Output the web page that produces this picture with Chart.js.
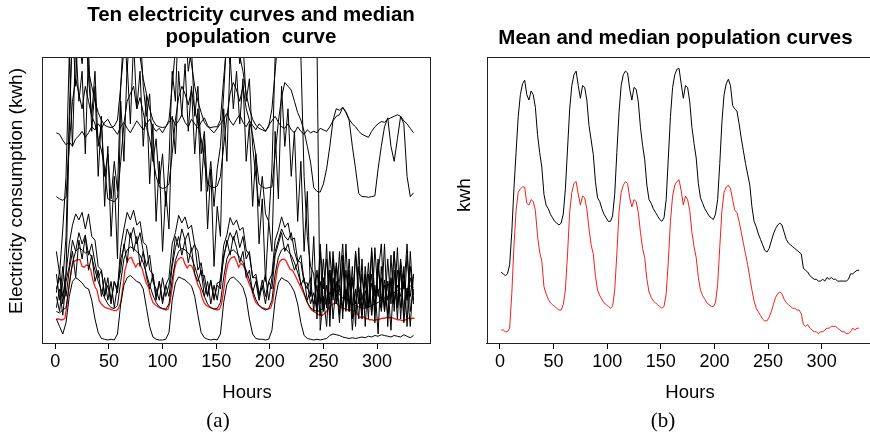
<!DOCTYPE html>
<html><head><meta charset="utf-8">
<script src="https://cdn.jsdelivr.net/npm/chart.js@4.4.1/dist/chart.umd.min.js"></script>
<style>
html,body{margin:0;padding:0;background:#fff;overflow:hidden;width:870px;height:437px;}
#a{position:absolute;left:0;top:0;}
#b{position:absolute;left:435px;top:0;}
</style></head><body>
<canvas id="a" width="435" height="437"></canvas>
<canvas id="b" width="450" height="437"></canvas>
<script>
// ---- x positions of the samples (hours) ----
const hoursFine = Array.from({length:168}, (_, i) => 1 + 2*i);   // 1,3,...,335
const hoursCoarse = Array.from({length:112}, (_, i) => 1 + 3*i); // 1,4,...,334
const hourTicks = [0, 50, 100, 150, 200, 250, 300];

// ---- population curves (kwh) ----
const medianCurve = [
0.30,0.30,0.29,0.29,0.31,0.50,0.76,0.96,1.06,1.08,1.09,1.09,1.00,0.99,1.02,1.01,0.96,0.82,0.73,0.68,0.54,0.50,0.47,0.45,0.44,0.43,0.42,0.41,0.41,
0.44,0.52,0.72,0.95,1.06,1.11,1.12,1.05,0.99,1.04,1.03,0.97,0.86,0.77,0.72,0.60,0.52,0.49,0.47,0.45,0.44,0.43,0.42,0.43,
0.52,0.72,0.95,1.06,1.10,1.12,1.11,1.03,0.98,1.02,1.01,0.95,0.84,0.75,0.70,0.58,0.51,0.48,0.46,0.45,0.44,0.43,0.42,0.43,
0.50,0.68,0.90,1.04,1.10,1.12,1.13,1.07,0.99,1.04,1.02,0.96,0.84,0.76,0.70,0.59,0.52,0.49,0.47,0.45,0.44,0.43,0.43,0.45,
0.55,0.76,0.96,1.06,1.09,1.10,1.08,1.02,0.96,0.95,0.90,0.84,0.78,0.72,0.66,0.59,0.52,0.46,0.42,0.40,0.38,0.36,0.35,0.35,
0.37,0.40,0.44,0.48,0.50,0.51,0.50,0.47,0.45,0.44,0.43,0.42,0.42,0.41,0.41,0.39,0.33,0.32,0.33,0.31,0.30,0.29,0.29,0.28,0.29,0.29,0.30,0.31,0.31,0.32,0.32,0.32,0.31,0.30,0.29,0.29,0.28,0.28,0.29,0.31,0.30,0.31,0.31];
const meanCurve = [
0.62,0.61,0.60,0.61,0.66,0.84,1.08,1.28,1.48,1.60,1.66,1.68,1.60,1.57,1.62,1.60,1.53,1.38,1.28,1.20,1.05,0.99,0.97,0.94,0.92,0.90,0.89,0.88,0.89,
0.94,1.08,1.30,1.52,1.65,1.71,1.73,1.65,1.58,1.65,1.64,1.57,1.43,1.35,1.27,1.12,1.03,1.01,0.97,0.94,0.92,0.90,0.90,0.93,
1.05,1.28,1.50,1.65,1.71,1.73,1.72,1.63,1.57,1.64,1.63,1.56,1.42,1.32,1.24,1.10,1.02,1.00,0.97,0.95,0.93,0.91,0.90,0.92,
1.02,1.25,1.48,1.64,1.71,1.74,1.745,1.66,1.58,1.65,1.64,1.56,1.42,1.33,1.25,1.11,1.03,1.00,0.97,0.95,0.93,0.92,0.91,0.94,
1.02,1.22,1.45,1.60,1.66,1.685,1.65,1.54,1.52,1.51,1.44,1.36,1.29,1.22,1.16,1.10,0.98,0.90,0.87,0.83,0.80,0.77,0.74,0.73,
0.75,0.79,0.83,0.86,0.88,0.89,0.88,0.84,0.80,0.78,0.77,0.76,0.75,0.74,0.73,0.72,0.64,0.63,0.62,0.60,0.59,0.58,0.58,0.57,0.57,0.58,0.57,0.59,0.58,0.59,0.58,0.58,0.57,0.57,0.57,0.57,0.57,0.58,0.61,0.61,0.62,0.63,0.63];

// ---- ten individual electricity curves (kwh, every 3 hours) ----
const consumer1 = [
2.78,2.76,2.68,2.62,2.66,2.60,2.70,2.74, 2.80,2.72,2.78,2.86,2.82,2.90,2.84,2.92,
2.96,2.88,2.82,2.76,2.86,2.92,2.84,2.78, 2.86,2.94,2.88,2.82,2.90,2.96,2.86,2.80,
2.84,2.78,2.86,2.92,2.98,2.88,2.94,3.02, 2.92,2.86,2.96,2.90,2.84,2.92,2.98,2.88,
2.82,2.78,2.84,2.90,2.96,3.04,2.94,2.88, 2.96,3.02,2.92,2.86,2.94,2.88,2.82,2.90,
2.86,2.80,2.88,2.94,3.00,2.92,2.86,2.84, 2.90,2.82,2.78,2.86,2.80,2.76,2.82,2.78,
2.80,2.78,2.84,2.82,2.80,2.86,2.94,3.00, 3.02,3.12,3.06,2.96,2.90,2.86,2.80,2.76,
2.74,2.72,2.80,2.86,2.90,2.93,2.92,2.96, 2.98,3.00,3.02,3.00,2.94,2.90,2.84,2.78];
const consumer2 = [
1.93,1.90,1.88,1.92,2.60,3.20,3.50,3.30, 3.10,3.40,3.20,3.00,2.90,2.70,2.55,2.30,
1.90,1.88,1.86,1.92,2.40,2.90,3.20,3.30, 3.40,3.10,3.25,3.05,2.85,2.70,2.45,2.20,
2.06,2.04,2.05,2.10,2.50,2.95,3.25,3.40, 3.30,3.15,3.35,3.10,2.90,2.70,2.40,2.10,
2.06,2.05,2.07,2.20,2.60,3.00,3.30,3.45, 3.35,3.20,3.40,3.10,2.95,2.75,2.49,2.10,
2.06,2.04,2.05,2.06,2.49,2.93,3.25,3.45, 3.40,3.35,3.20,3.05,2.95,2.80,2.60,2.39,
2.05,2.00,1.99,2.10,2.30,2.60,2.95,3.10, 3.08,3.12,3.05,2.95,2.60,2.30,1.97,1.93,
1.93,1.92,1.93,1.94,2.30,2.60,2.86,2.98, 2.60,2.40,2.70,3.00,2.90,2.20,1.93,1.98];
const consumer3 = [
0.70,0.85,0.60,0.90,2.80,4.20,4.50,4.00, 3.70,4.10,3.60,3.40,3.20,3.05,2.95,2.88,
2.86,2.85,2.87,2.95,3.40,3.90,4.30,4.40, 4.20,4.00,3.80,3.50,3.30,3.10,2.95,2.88,
2.86,2.85,2.86,2.95,3.40,3.90,4.20,4.30, 4.10,3.90,3.70,3.40,3.20,3.05,2.92,2.86,
2.85,2.86,2.86,2.95,3.50,4.00,4.30,4.20, 4.00,3.80,3.60,3.30,3.10,2.96,2.88,2.84,
2.82,2.80,2.86,3.10,3.60,4.10,4.40,4.50, 4.40,4.30,4.20,4.10,4.00,3.95,3.90,3.90,
3.95,4.00,0.15,0.60,0.20,0.95,0.30,0.80, 0.25,1.05,0.40,0.85,0.15,0.70,0.30,1.10,
0.20,0.90,0.35,0.75,0.10,1.00,0.45,0.80, 0.15,0.95,0.30,1.05,0.25,0.70,0.20,0.90];
const consumer4 = [
1.20,0.90,1.50,2.20,3.80,2.60,4.00,3.20, 3.60,2.50,3.90,2.80,3.40,2.20,3.00,1.80,
2.60,1.40,2.20,1.10,3.20,2.40,3.70,2.90, 4.00,3.10,3.60,2.60,3.30,2.10,2.90,1.60,
2.40,1.20,2.00,1.50,3.00,2.50,3.60,3.00, 3.70,2.80,3.40,2.50,3.10,2.00,2.70,1.50,
2.30,1.00,1.80,1.40,3.10,2.40,3.80,3.10, 3.60,2.90,3.50,2.40,2.90,1.80,2.50,1.30,
1.90,0.80,1.60,1.20,2.80,1.90,3.40,2.60, 3.10,2.20,2.80,1.60,2.40,1.20,2.00,0.60,
1.40,0.30,1.20,0.40,1.30,0.20,1.10,0.50, 1.20,0.30,1.30,0.40,1.00,0.20,1.25,0.35,
0.90,0.30,1.20,0.25,1.10,0.45,1.30,0.20, 1.15,0.40,1.25,0.30,1.00,0.20,1.20,0.50];
const consumer5 = [
0.60,0.40,0.80,1.40,3.00,4.20,3.40,4.50, 3.90,4.40,3.50,3.00,3.60,2.60,2.90,2.20,
2.50,1.90,2.40,2.00,3.40,4.20,3.60,4.30, 4.50,3.80,4.20,3.40,3.00,3.30,2.40,2.70,
2.10,2.50,1.80,2.40,3.60,3.20,4.40,3.90, 4.30,3.60,3.90,3.00,3.40,2.50,2.80,2.00,
2.40,1.80,2.30,2.60,3.30,4.10,3.70,4.40, 4.20,3.70,4.00,3.20,3.50,2.60,2.20,1.80,
2.20,1.70,1.60,2.30,3.80,4.30,3.90,4.60, 4.40,4.60,4.20,4.00,3.80,2.20,1.40,1.00,
0.90,0.40,1.30,0.70,1.10,0.50,1.20,0.60, 0.80,1.30,0.50,1.10,0.40,1.20,0.70,0.30,
1.00,0.50,1.25,0.60,0.90,1.30,0.40,0.80, 0.60,1.20,0.50,1.10,0.70,1.30,0.40,0.70];
const consumer6 = [
0.65,0.95,0.50,0.90,1.30,1.55,1.70,1.62, 1.72,1.50,1.70,1.40,1.35,1.00,0.95,0.62,
0.85,0.55,0.80,0.70,1.25,1.50,1.72,1.62, 1.75,1.55,1.60,1.32,1.28,0.95,0.90,0.60,
0.80,0.55,0.75,0.85,1.30,1.45,1.68,1.58, 1.66,1.50,1.55,1.28,1.20,0.88,0.88,0.62,
0.82,0.58,0.78,0.80,1.28,1.42,1.65,1.55, 1.62,1.48,1.52,1.22,1.15,0.85,0.85,0.60,
0.82,0.60,0.80,0.90,1.35,1.48,1.66,1.52, 1.58,1.35,1.38,1.08,1.05,0.78,0.78,0.50,
0.65,0.40,0.80,0.45,0.75,0.35,0.85,0.50, 0.75,0.45,0.70,0.40,0.80,0.50,0.72,0.42,
0.68,0.45,0.78,0.50,0.70,0.40,0.82,0.55, 0.80,0.52,0.75,0.60,0.90,0.55,0.85,0.62];
const consumer7 = [
0.45,0.70,0.35,0.80,1.00,1.35,1.20,1.45, 1.30,1.42,1.15,1.30,1.05,0.85,0.95,0.60,
0.75,0.50,0.80,0.65,1.10,1.25,1.50,1.38, 1.52,1.30,1.45,1.20,1.00,1.15,0.80,0.70,
0.55,0.85,0.60,0.75,1.05,1.40,1.25,1.50, 1.35,1.45,1.20,1.30,0.95,1.05,0.75,0.60,
0.80,0.55,0.75,0.70,1.15,1.30,1.45,1.35, 1.48,1.25,1.40,1.10,1.20,0.85,0.90,0.65,
0.70,0.90,0.55,0.85,1.20,1.35,1.50,1.40, 1.35,1.45,1.20,1.05,1.15,0.80,0.70,0.85,
0.40,0.95,0.50,1.10,0.45,1.20,0.60,1.00, 0.35,1.15,0.55,0.95,0.30,1.20,0.50,0.90,
0.45,1.05,0.35,1.25,0.60,0.85,0.40,1.10, 0.50,1.20,0.45,0.95,0.35,1.15,0.60,0.90];
const consumer8 = [
0.40,0.38,0.42,0.45,0.75,1.05,1.20,1.25, 1.22,1.18,1.20,1.12,0.95,0.80,0.68,0.58,
0.50,0.45,0.44,0.48,0.80,1.10,1.22,1.26, 1.24,1.20,1.15,1.05,0.90,0.75,0.62,0.52,
0.46,0.44,0.43,0.50,0.82,1.08,1.20,1.24, 1.22,1.18,1.12,1.00,0.86,0.72,0.60,0.50,
0.45,0.43,0.44,0.52,0.85,1.10,1.20,1.22, 1.18,1.12,1.05,0.95,0.82,0.68,0.56,0.48,
0.44,0.42,0.44,0.55,0.90,1.12,1.22,1.25, 1.20,1.15,1.05,0.92,0.78,0.65,0.52,0.45,
0.42,0.40,0.41,0.45,0.55,0.65,0.70,0.68, 0.62,0.58,0.56,0.55,0.50,0.48,0.46,0.45,
0.44,0.46,0.48,0.50,0.52,0.55,0.58,0.60, 0.62,0.65,0.68,0.70,0.72,0.70,0.74,0.72];
const consumer9 = [
0.30,0.20,0.10,0.25,0.60,0.80,0.85,0.82, 0.78,0.72,0.70,0.55,0.30,0.12,0.04,0.03,
0.02,0.03,0.02,0.10,0.50,0.75,0.85,0.88, 0.84,0.80,0.78,0.70,0.45,0.20,0.06,0.03,
0.02,0.02,0.03,0.12,0.55,0.78,0.86,0.84, 0.82,0.78,0.74,0.60,0.35,0.12,0.05,0.03,
0.02,0.03,0.02,0.10,0.52,0.76,0.84,0.86, 0.82,0.78,0.72,0.58,0.30,0.10,0.04,0.03,
0.03,0.02,0.03,0.15,0.55,0.78,0.85,0.82, 0.80,0.74,0.66,0.50,0.25,0.08,0.04,0.03,
0.02,0.03,0.02,0.03,0.04,0.08,0.10,0.09, 0.08,0.06,0.05,0.04,0.05,0.04,0.05,0.06,
0.05,0.07,0.06,0.08,0.07,0.09,0.08,0.07, 0.06,0.08,0.07,0.06,0.09,0.07,0.05,0.08];
const consumer10 = [
0.90,0.55,1.00,0.60,0.95,1.20,0.85,1.35, 1.10,1.40,0.95,1.15,0.80,0.95,0.60,0.85,
0.55,0.80,0.45,0.75,0.95,1.30,1.05,1.45, 1.20,1.40,1.00,1.20,0.85,0.70,0.90,0.55,
0.80,0.50,0.75,0.60,1.00,1.25,1.40,1.15, 1.35,1.05,1.25,0.90,0.80,0.95,0.60,0.80,
0.50,0.75,0.55,0.85,1.10,1.35,1.15,1.40, 1.25,1.05,1.20,0.85,0.95,0.65,0.80,0.55,
0.75,0.50,0.80,0.70,1.15,1.30,1.45,1.20, 1.30,1.10,0.95,1.05,0.75,0.85,0.55,0.70,
0.50,0.75,0.35,0.85,0.45,0.95,0.55,1.05, 0.70,0.40,0.95,0.50,0.85,0.35,1.00,0.55,
0.80,0.45,0.90,0.40,1.05,0.55,0.75,0.35, 0.85,0.50,0.95,0.45,0.80,0.60,1.00,0.55];
const tenCurves = [consumer1, consumer2, consumer3, consumer4, consumer5,
                   consumer6, consumer7, consumer8, consumer9, consumer10];

// ---- texts ----
const titleA = ['Ten electricity curves and median', 'population  curve'];
const titleB = 'Mean and median population curves';
const yLabelA = 'Electricity consumption (kwh)';
const yLabelB = 'kwh';
const xLabel = 'Hours';
const captionA = '(a)', captionB = '(b)';

const SANS = "'Liberation Sans', Arial, Helvetica, sans-serif";
const SERIF = "'Liberation Serif', 'Times New Roman', serif";

function series(hours, vals) { return vals.map((v, i) => ({x: hours[i], y: v})); }

function textPlugin(items) {
  return { id: 'texts', afterDraw(chart) {
    const ctx = chart.ctx;
    items.forEach(t => {
      ctx.save();
      ctx.font = t.font; ctx.fillStyle = '#000';
      ctx.textAlign = 'center'; ctx.textBaseline = 'alphabetic';
      ctx.translate(t.x, t.y);
      if (t.rot) ctx.rotate(t.rot);
      ctx.fillText(t.text, 0, 0);
      ctx.restore();
    });
  }};
}
const boxPlugin = { id: 'box', afterDatasetsDraw(chart) {
  const {ctx, chartArea: a} = chart;
  ctx.save(); ctx.strokeStyle = '#222'; ctx.lineWidth = 1;
  ctx.strokeRect(Math.round(a.left) + 0.5, Math.round(a.top) + 0.5,
                 Math.round(a.right - a.left), Math.round(a.bottom - a.top));
  ctx.restore();
}};

function xScale() {
  return {
    type: 'linear', min: -12.4, max: 349.4,
    afterBuildTicks: s => { s.ticks = hourTicks.map(v => ({value: v})); },
    afterFit: s => { s.height = 30; },
    grid: { drawOnChartArea: false, drawTicks: true, tickLength: 6, color: '#000', lineWidth: 1 },
    border: { display: true, color: '#222' },
    ticks: { color: '#000', padding: 2, maxRotation: 0, autoSkip: false,
             font: { family: SANS, size: 18 } }
  };
}
function baseOptions(pad, ymin, ymax) {
  return {
    responsive: false, animation: false, devicePixelRatio: 1,
    layout: { padding: pad },
    plugins: { legend: { display: false }, tooltip: { enabled: false }, title: { display: false } },
    elements: { point: { radius: 0 }, line: { tension: 0 } },
    scales: { x: xScale(), y: { type: 'linear', display: false, min: ymin, max: ymax } }
  };
}

const lineStyle = (color, w) => ({ borderColor: color, borderWidth: w, pointRadius: 0, fill: false });

// ---- panel (a) ----
const dsA = tenCurves.map(c => Object.assign({ data: series(hoursCoarse, c) }, lineStyle('#000', 1)));
dsA.push(Object.assign({ data: series(hoursFine, medianCurve) }, lineStyle('#f0201c', 1.3)));
new Chart(document.getElementById('a'), {
  type: 'line',
  data: { datasets: dsA },
  options: baseOptions({ left: 42, right: 5, top: 57, bottom: 64 }, -0.02, 3.79),
  plugins: [boxPlugin, textPlugin([
    { text: titleA[0], x: 251, y: 21, font: 'bold 20.5px ' + SANS },
    { text: titleA[1], x: 251, y: 43, font: 'bold 20.5px ' + SANS },
    { text: yLabelA, x: 22, y: 191, rot: -Math.PI / 2, font: '19px ' + SANS },
    { text: xLabel, x: 247, y: 398, font: '18.5px ' + SANS },
    { text: captionA, x: 218, y: 427, font: '21px ' + SERIF }
  ])]
});

// ---- panel (b) ----
new Chart(document.getElementById('b'), {
  type: 'line',
  data: { datasets: [
    Object.assign({ data: series(hoursFine, meanCurve) }, lineStyle('#000', 1)),
    Object.assign({ data: series(hoursFine, medianCurve) }, lineStyle('#f0201c', 1))
  ]},
  options: baseOptions({ left: 51.7, right: 10.4, top: 57, bottom: 64 }, 0.228, 1.808),
  plugins: [boxPlugin, textPlugin([
    { text: titleB, x: 240.5, y: 44, font: 'bold 20.5px ' + SANS },
    { text: yLabelB, x: 35, y: 195, rot: -Math.PI / 2, font: '19px ' + SANS },
    { text: xLabel, x: 255, y: 398, font: '18.5px ' + SANS },
    { text: captionB, x: 228, y: 427, font: '21px ' + SERIF }
  ])]
});
</script></body></html>
